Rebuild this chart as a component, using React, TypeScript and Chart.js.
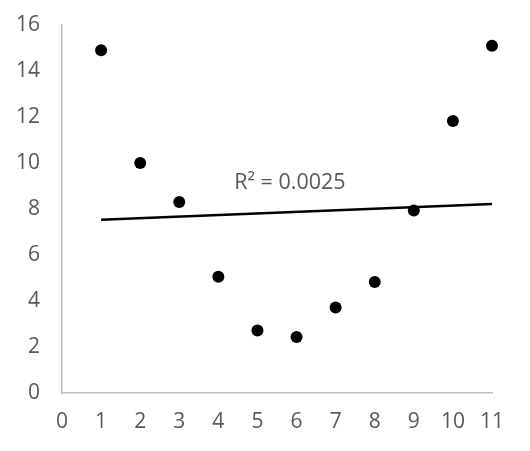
import React, { useEffect, useRef } from "react";
import { Chart, registerables } from "chart.js";

Chart.register(...registerables);

const xValues = [1, 2, 3, 4, 5, 6, 7, 8, 9, 10, 11];
const yValues = [14.9, 10.0, 8.3, 5.05, 2.72, 2.43, 3.72, 4.83, 7.93, 11.83, 15.1];
const trendX = [1, 11];
const trendY = [7.53, 8.22];
const r2Label = "R² = 0.0025";
const r2Anchor = { x: 5.83, y: 9.15 };

const FONT = "'Open Sans', 'Liberation Sans', sans-serif";
const GRAY = "#595959";

const r2Plugin = {
  id: "r2label",
  afterDatasetsDraw(chart: any) {
    const { ctx, scales } = chart;
    const px = scales.x.getPixelForValue(r2Anchor.x);
    const py = scales.y.getPixelForValue(r2Anchor.y);
    ctx.save();
    ctx.font = `21.5px ${FONT}`;
    ctx.fillStyle = GRAY;
    ctx.textAlign = "center";
    ctx.textBaseline = "middle";
    ctx.fillText(r2Label, px, py);
    ctx.restore();
  },
};

export default function App() {
  const ref = useRef<HTMLCanvasElement | null>(null);
  useEffect(() => {
    if (!ref.current) return;
    const chart = new Chart(ref.current, {
      type: "scatter",
      data: {
        datasets: [
          {
            label: "data",
            data: xValues.map((x, i) => ({ x, y: yValues[i] })),
            backgroundColor: "#000000",
            borderColor: "#000000",
            pointRadius: 6,
            pointBorderWidth: 0,
            clip: false as any,
            order: 1,
          },
          {
            label: "trend",
            type: "line",
            data: trendX.map((x, i) => ({ x, y: trendY[i] })),
            borderColor: "#000000",
            borderWidth: 2.5,
            pointRadius: 0,
            showLine: true,
            fill: false,
            clip: false as any,
            order: 2,
          } as any,
        ],
      },
      options: {
        responsive: false,
        animation: false,
        layout: { padding: { top: 25, right: 38, left: 0, bottom: 0 } },
        plugins: { legend: { display: false }, tooltip: { enabled: false } },
        scales: {
          x: {
            type: "linear",
            min: 0,
            max: 11,
            grid: { display: false, drawTicks: false },
            border: { display: true, color: "#BFBFBF", width: 1.5 },
            ticks: {
              stepSize: 1,
              color: GRAY,
              font: { family: FONT, size: 21 },
              padding: 16,
              maxRotation: 0,
              autoSkip: false,
            },
            afterFit: (s: any) => {
              s.height = 58;
              s.paddingLeft = 0;
              s.paddingRight = 0;
            },
          },
          y: {
            type: "linear",
            min: 0,
            max: 16,
            grid: { display: false, drawTicks: false },
            border: { display: true, color: "#BFBFBF", width: 1.5 },
            ticks: {
              stepSize: 2,
              color: GRAY,
              font: { family: FONT, size: 21 },
              padding: 22,
            },
            afterFit: (s: any) => {
              s.width = 62;
              s.paddingTop = 0;
              s.paddingBottom = 0;
            },
          },
        },
      },
      plugins: [r2Plugin],
    });
    return () => chart.destroy();
  }, []);
  return (
    <div style={{ position: "fixed", left: 0, top: 0, width: 530, height: 451, background: "#fff" }}>
      <canvas ref={ref} width={530} height={451} />
    </div>
  );
}
